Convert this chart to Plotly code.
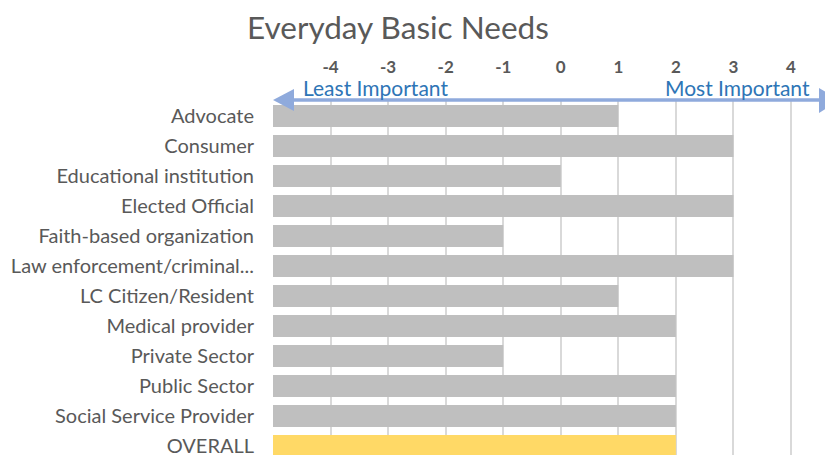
import plotly.graph_objects as go

categories = ["Advocate", "Consumer", "Educational institution", "Elected Official",
              "Faith-based organization", "Law enforcement/criminal...", "LC Citizen/Resident",
              "Medical provider", "Private Sector", "Public Sector", "Social Service Provider",
              "OVERALL"]
values = [1, 3, 0, 3, -1, 3, 1, 2, -1, 2, 2, 2]
base_value = -5
tick_vals = [-4, -3, -2, -1, 0, 1, 2, 3, 4]
tick_text = ["-4", "-3", "-2", "-1", "0", "1", "2", "3", "4"]
title_text = "Everyday Basic Needs"

colors = ["#FFD966" if c == "OVERALL" else "#BFBFBF" for c in categories]

OFF = 8  # page body margin
W, H = 833 - OFF, 455 - OFF
L, T = 273 - OFF, 101 - OFF
PW, PH = W - L, H - T

def px(x):  # screen pixel -> paper
    return (x - OFF - L) / PW

def py(y):
    return 1 - (y - OFF - T) / PH

fig = go.Figure(go.Bar(
    y=categories,
    x=[v - base_value for v in values],
    base=base_value,
    orientation="h",
    marker=dict(color=colors, line=dict(width=0)),
    hoverinfo="skip",
))

FONT = "Lato"
GRAY = "#595959"
ARROW = "#8FAADC"

fig.update_layout(
    width=W, height=H,
    margin=dict(l=L, r=0, t=T, b=0, autoexpand=False),
    paper_bgcolor="white", plot_bgcolor="white",
    showlegend=False,
    bargap=0.27,
    font=dict(family=FONT, color=GRAY),
)
fig.update_xaxes(
    range=[-5, 4.73], side="top", tickvals=tick_vals, ticktext=tick_text,
    showgrid=True, gridcolor="#D9D9D9", gridwidth=1.5,
    zeroline=False, showline=False, ticks="", automargin=False,
    tickfont=dict(family=FONT, size=17, color=GRAY, weight="bold"),
    ticklabelstandoff=24,
)
fig.update_yaxes(
    categoryorder="array", categoryarray=categories,
    range=[11.3, -0.5], showgrid=False, zeroline=False, showline=False,
    ticks="", automargin=False, tickfont=dict(family=FONT, size=20, color=GRAY),
    ticklabelstandoff=18,
)

# title
fig.add_annotation(x=px(398), y=py(27), xref="paper", yref="paper",
                   text=title_text, showarrow=False, xanchor="center", yanchor="middle",
                   font=dict(family=FONT, size=31.5, color=GRAY))

# double arrow
ay = py(100)
fig.add_shape(type="line", xref="paper", yref="paper", x0=px(285), x1=px(822), y0=ay, y1=ay,
              line=dict(color=ARROW, width=3.5), layer="above")
fig.add_shape(type="path", xref="paper", yref="paper",
              path=f"M {px(273)} {ay} L {px(294)} {py(89)} L {px(294)} {py(111)} Z",
              fillcolor=ARROW, line=dict(width=0), layer="above")
fig.add_shape(type="path", xref="paper", yref="paper",
              path=f"M {px(840)} {ay} L {px(819)} {py(88)} L {px(819)} {py(113)} Z",
              fillcolor=ARROW, line=dict(width=0), layer="above")

fig.add_annotation(x=px(301), y=py(88), xref="paper", yref="paper", text="Least Important",
                   showarrow=False, xanchor="left", yanchor="middle",
                   font=dict(family=FONT, size=21, color="#2E75B6"))
fig.add_annotation(x=px(812), y=py(88), xref="paper", yref="paper", text="Most Important",
                   showarrow=False, xanchor="right", yanchor="middle",
                   font=dict(family=FONT, size=21, color="#2E75B6"))

fig.write_html("out.html")
